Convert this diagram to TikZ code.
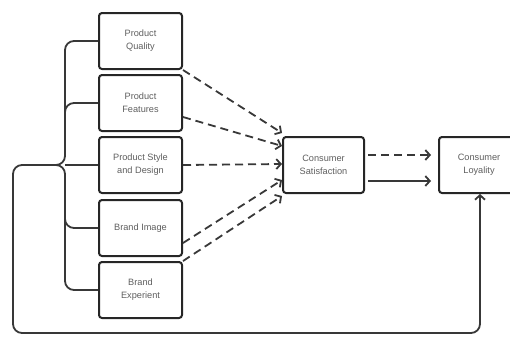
\documentclass[tikz,border=0pt]{standalone}
\usepackage{fontspec}
\setmainfont{Liberation Sans}
\usetikzlibrary{arrows.meta}
\definecolor{boxline}{HTML}{262626}
\definecolor{connline}{HTML}{383838}
\definecolor{txt}{HTML}{5E5E5E}
\begin{document}
\begin{tikzpicture}[x=1pt,y=-1pt,
  factor/.style={draw=boxline, line width=2pt, rounded corners=3pt,
    minimum width=83pt, minimum height=56pt, inner sep=0pt, align=center,
    text=txt, font=\fontsize{9.2}{13}\selectfont},
  wide/.style={factor, minimum width=81pt},
  conn/.style={draw=connline, line width=1.8pt},
  dashconn/.style={conn, dash pattern=on 8pt off 5pt},
  arrowtip/.style={-{Straight Barb[length=4.5pt,width=10pt,line width=1.8pt]}}
]
\clip (0,0) rectangle (510,338);
\node[factor] (q) at (140.5,41) {Product\\Quality};
\node[factor] (f) at (140.5,103) {Product\\Features};
\node[factor] (s) at (140.5,165) {Product Style\\and Design};
\node[factor] (i) at (140.5,228) {Brand Image};
\node[factor] (e) at (140.5,290) {Brand\\Experient};
\node[wide] (cs) at (323.5,165) {Consumer\\Satisfaction};
\node[wide, minimum width=80pt] (cl) at (479,165) {Consumer\\Loyality};

\coordinate (j) at (65,165);
\coordinate (lj) at (13,165);
\coordinate (lm) at (35,165);
\coordinate (bl) at (13,333);
\coordinate (br) at (480,333);
\coordinate (fj) at (65,125);
\coordinate (ij) at (65,205);

% bracket and feedback loop
\draw[conn, rounded corners=9pt, arrowtip] (q.west) -| (j) -- (lj) -- (bl) -- (br) -- (br |- cl.south);
\draw[conn, rounded corners=9pt] (e.west) -| (j) -- (lm);
\draw[conn] (s.west) -- (j);
\draw[conn, rounded corners=9pt] (f.west) -| (fj);
\draw[conn, rounded corners=9pt] (i.west) -| (ij);

% dashed influences
\draw[dashconn, arrowtip] (q.south east) -- ([yshift=32pt]cs.west);
\draw[dashconn, arrowtip] ([yshift=-14pt]f.east) -- ([yshift=19pt]cs.west);
\draw[dashconn, arrowtip] (s.east) -- ([yshift=1pt]cs.west);
\draw[dashconn, arrowtip] ([yshift=-15pt]i.east) -- ([yshift=-15pt]cs.west);
\draw[dashconn, arrowtip] (e.north east) -- ([yshift=-31pt]cs.west);

% satisfaction to loyalty
\draw[dashconn, arrowtip] ([xshift=3pt,yshift=10pt]cs.east) -- ([xshift=-7pt,yshift=10pt]cl.west);
\draw[conn, arrowtip] ([xshift=3pt,yshift=-16pt]cs.east) -- ([xshift=-7pt,yshift=-16pt]cl.west);
\end{tikzpicture}
\end{document}
